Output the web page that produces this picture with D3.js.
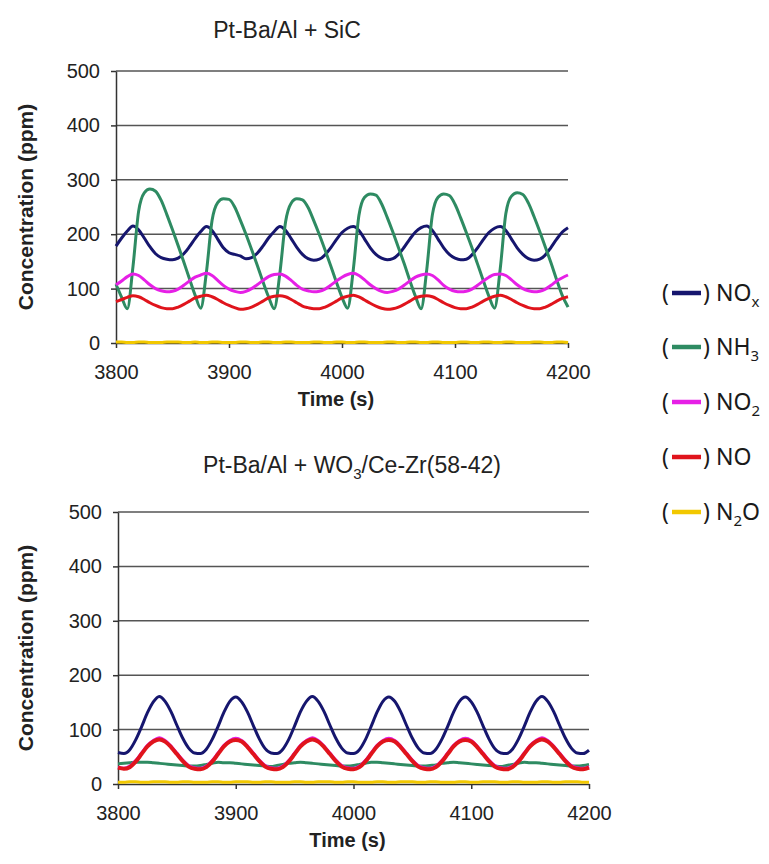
<!DOCTYPE html>
<html>
<head>
<meta charset="utf-8">
<script src="https://cdn.jsdelivr.net/npm/d3@7"></script>
<style>
  body { margin: 0; background: #fff; }
  .tick text { font-family: "Liberation Sans", Arial, sans-serif; font-size: 20px; fill: #222; }
  .tick line, .domain { stroke: #333; stroke-width: 1.5; }
</style>
</head>
<body>
<div id="chart"></div>
<script>
// sample times (s), every 5 s
var timeSec = d3.range(3800, 4201, 5);

var xTicks = [3800, 3900, 4000, 4100, 4200];
var yTicks = [0, 100, 200, 300, 400, 500];

// Pt-Ba/Al + SiC
var sicNOx = [178,193,206,
  215,208,193,177,164,157,154,153,156,164,177,192,205,
  214,207,191,175,166,163,160,155,157,165,178,193,205,
  214,207,192,176,163,155,152,154,162,175,190,203,211,
  214,207,191,175,163,156,153,155,163,176,191,204,212,
  215,207,191,175,163,156,153,154,162,175,190,203,211,
  214,207,191,175,163,155,152,154,162,176,191,204,212];
var sicNH3 = [108,84,
  63,140,242,276,283,279,262,236,208,179,149,118,88,
  64,130,225,258,265,264,250,226,200,172,143,113,85,
  63,128,222,257,265,263,249,225,199,171,142,112,84,
  64,135,235,268,274,272,256,231,204,175,146,115,86,
  63,135,236,268,274,271,255,230,203,175,145,115,86,
  64,136,238,270,276,273,257,232,205,176,147,116,87,
  66];
var sicNO2 = [107,114,122,
  127,124,116,107,100,96,94,95,99,106,114,121,125,
  128,124,115,106,99,95,93,95,100,107,115,122,126,
  127,123,115,106,99,96,94,95,99,106,114,121,126,
  128,124,116,107,100,95,93,95,99,106,114,121,125,
  127,124,116,106,99,95,94,95,99,106,114,121,126,
  127,124,116,107,100,96,94,95,99,106,114,120,125];
var sicNO = [76,80,84,
  87,85,80,74,69,65,63,63,66,71,77,83,86,
  88,85,80,74,69,65,62,63,66,71,77,83,86,
  87,85,80,74,68,65,63,63,66,71,77,83,86,
  88,85,79,73,68,64,62,63,66,71,77,83,86,
  87,85,80,74,69,65,63,63,66,71,77,82,86,
  88,85,80,74,69,65,63,63,66,71,77,82,85];
var sicN2O = [2,2,1,1,2,2,1,1,1,2,2,2,1,1,2,1,1,2,2,1,1,1,2,2,1,1,2,
  2,1,1,2,2,1,1,1,2,2,1,1,2,2,1,1,2,2,1,1,1,2,2,1,1,2,2,
  1,1,2,2,1,1,1,2,2,1,1,2,2,1,1,2,2,1,1,1,2,2,1,1,2,2,1];

// Pt-Ba/Al + WO3/Ce-Zr(58-42)
var wczNOx = [58,56,63,81,105,131,151,
  161,152,133,108,84,66,57,56,64,82,106,132,152,
  160,151,132,107,83,65,57,56,64,82,107,133,152,
  161,152,133,108,84,66,57,56,63,81,106,132,152,
  160,152,133,108,84,66,57,56,64,82,106,132,152,
  160,151,132,107,83,65,57,56,64,82,106,132,152,
  161,152,133,108,84,66,57,56,62];
var wczNH3 = [37,38,39,40,
  40,40,39,38,37,36,35,34,33,33,34,36,38,
  40,39,39,38,37,36,35,34,33,32,34,36,38,
  39,40,39,38,37,36,35,34,33,33,34,36,38,
  40,40,39,38,37,36,35,34,33,33,34,35,38,
  39,40,39,38,37,36,35,34,33,32,34,36,38,
  40,39,39,38,37,36,35,34,33,33,34,36];
var wczNO2 = [31,29,33,43,57,71,80,
  85,80,70,57,44,34,30,29,33,43,57,71,80,
  84,80,70,57,44,34,30,29,33,43,57,71,80,
  85,80,70,57,44,34,30,29,33,43,57,71,80,
  84,80,70,57,44,34,30,29,33,43,57,71,80,
  84,80,70,57,44,34,30,29,33,43,57,71,80,
  85,80,70,57,44,34,30,29,32];
var wczNO = [30,28,31,41,55,69,78,
  82,78,68,55,42,32,28,27,31,41,55,69,78,
  81,78,68,55,42,32,28,27,31,41,55,69,78,
  82,78,68,55,42,32,28,27,31,41,55,69,78,
  81,78,68,55,42,32,28,27,31,41,55,69,78,
  81,78,68,55,42,32,28,27,31,41,55,69,78,
  82,78,68,55,42,32,28,27,30];
var wczN2O = [3,3,4,4,3,3,4,4,4,3,3,4,4,3,3,3,4,4,3,3,4,4,4,3,3,4,4,
  3,3,3,4,4,3,3,4,4,4,3,3,4,4,3,3,3,4,4,3,3,4,4,4,3,3,4,
  4,3,3,3,4,4,3,3,4,4,4,3,3,4,4,3,3,3,4,4,3,3,4,4,4,3,3];

var seriesNames = ["NOx", "NH3", "NO2", "NO", "N2O"];
var colors = ["#16166e", "#2e8b62", "#e620e6", "#e0141c", "#f2c800"];

var svgWidth = 769;
var svgHeight = 864;

var svg = d3.select("#chart")
  .append("svg")
  .attr("width", svgWidth)
  .attr("height", svgHeight);

var panels = [
  { title: ["Pt-Ba/Al + SiC"], titleX: 287, titleY: 38,
    left: 116, right: 568, top: 71, bottom: 343,
    data: [sicNOx, sicNH3, sicNO2, sicNO, sicN2O] },
  { title: ["Pt-Ba/Al + WO", "3", "/Ce-Zr(58-42)"], titleX: 352, titleY: 473,
    left: 118, right: 589, top: 512, bottom: 784,
    data: [wczNOx, wczNH3, wczNO2, wczNO, wczN2O] }
];

panels.forEach(function(p) {
  var x = d3.scaleLinear().domain([3800, 4200]).range([p.left, p.right]);
  var y = d3.scaleLinear().domain([0, 500]).range([p.bottom, p.top]);

  // horizontal gridlines
  svg.append("g").selectAll("line")
    .data(yTicks.filter(d => d > 0))
    .enter()
    .append("line")
    .attr("x1", p.left)
    .attr("x2", p.right)
    .attr("y1", d => y(d))
    .attr("y2", d => y(d))
    .attr("stroke", "#555")
    .attr("stroke-width", 1.5);

  svg.append("g")
    .attr("transform", `translate(${p.left}, 0)`)
    .call(d3.axisLeft(y).tickValues(yTicks).tickSize(5).tickSizeOuter(0).tickPadding(11));

  svg.append("g")
    .attr("transform", `translate(0, ${p.bottom})`)
    .call(d3.axisBottom(x).tickValues(xTicks).tickFormat(d3.format("d")).tickSize(5).tickSizeOuter(0).tickPadding(17));

  // the series
  p.data.forEach(function(vals, i) {
    var line = d3.line()
      .x((d, j) => x(timeSec[j]))
      .y(d => y(d))
      .curve(d3.curveMonotoneX);
    svg.append("path")
      .datum(vals)
      .attr("d", line)
      .attr("fill", "none")
      .attr("stroke", colors[i])
      .attr("stroke-width", i == 3 && p.left == 118 ? 4 : 3)
      .attr("stroke-linejoin", "round");
  });

  // title
  var t = svg.append("text")
    .attr("x", p.titleX)
    .attr("y", p.titleY)
    .attr("text-anchor", "middle")
    .style("font-family", "Liberation Sans, Arial, sans-serif")
    .style("font-size", "23px")
    .style("fill", "#222");
  t.append("tspan").text(p.title[0]);
  if (p.title.length > 1) {
    t.append("tspan").attr("dy", 6).style("font-size", "15px").text(p.title[1]);
    t.append("tspan").attr("dy", -6).text(p.title[2]);
  }

  // axis titles
  svg.append("text")
    .attr("transform", "rotate(-90)")
    .attr("x", -(p.top + p.bottom) / 2)
    .attr("y", 33)
    .attr("text-anchor", "middle")
    .style("font-family", "Liberation Sans, Arial, sans-serif")
    .style("font-weight", "bold")
    .style("font-size", "21px")
    .style("fill", "#222")
    .text("Concentration (ppm)");

  svg.append("text")
    .attr("x", (p.left + p.right) / 2 - 6)
    .attr("y", p.bottom + 63)
    .attr("text-anchor", "middle")
    .style("font-family", "Liberation Sans, Arial, sans-serif")
    .style("font-weight", "bold")
    .style("font-size", "20px")
    .style("fill", "#222")
    .text("Time (s)");
});

// legend
var legendY = [293, 347, 402, 457, 512];
var legendLabels = [["NO", "x"], ["NH", "3"], ["NO", "2"], ["NO", ""], ["N", "2", "O"]];

var legend = svg.append("g")
  .style("font-family", "Noto Sans, Open Sans, sans-serif")
  .style("font-size", "23px")
  .style("fill", "#1a1a1a");

legendLabels.forEach(function(lab, i) {
  var ly = legendY[i];
  legend.append("text").attr("x", 662).attr("y", ly + 8).text("(");
  legend.append("line")
    .attr("x1", 672).attr("x2", 701)
    .attr("y1", ly).attr("y2", ly)
    .attr("stroke", colors[i])
    .attr("stroke-width", 4.5);
  legend.append("text").attr("x", 703).attr("y", ly + 8).text(")");
  var txt = legend.append("text").attr("x", 716).attr("y", ly + 8);
  txt.append("tspan").text(lab[0]);
  if (lab[1]) txt.append("tspan").attr("dy", 6).style("font-size", "15px").text(lab[1]);
  if (lab[2]) txt.append("tspan").attr("dy", -6).text(lab[2]);
});
</script>
</body>
</html>
